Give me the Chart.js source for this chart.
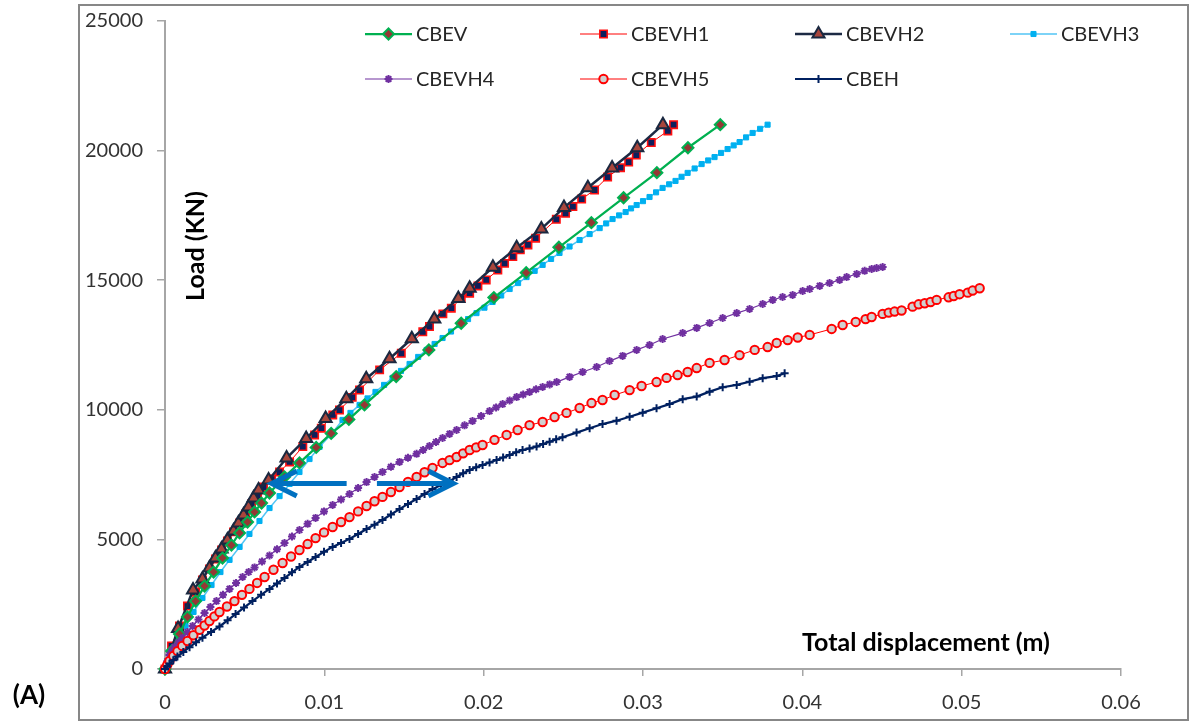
<!DOCTYPE html>
<html>
<head>
<meta charset="utf-8">
<script src="https://cdn.jsdelivr.net/npm/chart.js@4.4.1/dist/chart.umd.min.js"></script>
<style>
  html, body { margin: 0; padding: 0; background: #ffffff; overflow: hidden; }
  #wrap { position: relative; width: 1189px; height: 721px; }
</style>
</head>
<body>
<div id="wrap"><canvas id="c" width="1189" height="721"></canvas></div>
<script>
// Load (kN) versus total displacement (m) for the seven pile-group cases.
const seriesNames = ['CBEV', 'CBEVH1', 'CBEVH2', 'CBEVH3', 'CBEVH4', 'CBEVH5', 'CBEH'];
const xTickLabels = ['0', '0.01', '0.02', '0.03', '0.04', '0.05', '0.06'];
const yTickLabels = ['0', '5000', '10000', '15000', '20000', '25000'];

const cbevDisp = [0, 0.00041, 0.00091, 0.00141, 0.00192, 0.00248, 0.00305, 0.00361, 0.00417, 0.00468,
  0.00518, 0.00562, 0.00606, 0.00656, 0.00750, 0.00844, 0.00949, 0.01043, 0.01154, 0.01252,
  0.01451, 0.01656, 0.01859, 0.02064, 0.02267, 0.02472, 0.02676, 0.02878, 0.03087, 0.03282, 0.03485];
const cbevLoad = [0, 690, 1350, 2010, 2620, 3200, 3740, 4280, 4780, 5250,
  5670, 6060, 6400, 6790, 7410, 7950, 8550, 9090, 9630, 10190,
  11280, 12310, 13340, 14330, 15290, 16270, 17220, 18180, 19150, 20110, 21000];

const cbevh1Disp = [0, 0.00041, 0.00091, 0.00141, 0.00192, 0.00235, 0.00279, 0.00317, 0.00355, 0.00392,
  0.00430, 0.00468, 0.00505, 0.00543, 0.00581, 0.00618, 0.00669, 0.00719, 0.00782, 0.00865,
  0.00939, 0.00981, 0.01053, 0.01095, 0.01175, 0.01221, 0.01347, 0.01483, 0.01618, 0.01660,
  0.01744, 0.01797, 0.01859, 0.01912, 0.01964, 0.02016, 0.02089, 0.02131, 0.02183, 0.02230,
  0.02278, 0.02326, 0.02456, 0.02514, 0.02560, 0.02615, 0.02696, 0.02778, 0.02859, 0.02910,
  0.02958, 0.03052, 0.03156, 0.03192];
const cbevh1Load = [0, 890, 1660, 2430, 2970, 3430, 3860, 4240, 4590, 4940,
  5290, 5630, 5980, 6370, 6710, 7020, 7330, 7600, 7990, 8580,
  9030, 9290, 9800, 9990, 10480, 10760, 11540, 12180, 13010, 13210,
  13700, 13920, 14300, 14500, 14780, 15010, 15390, 15650, 15910, 16170,
  16360, 16620, 17350, 17580, 17840, 18130, 18480, 18980, 19340, 19560,
  19830, 20310, 20760, 21000];

const cbevh2Disp = [0, 0.00082, 0.00176, 0.00235, 0.00279, 0.00317, 0.00355, 0.00392, 0.00430, 0.00461,
  0.00493, 0.00524, 0.00556, 0.00587, 0.00650, 0.00763, 0.00886, 0.01008, 0.01138, 0.01263,
  0.01409, 0.01549, 0.01690, 0.01841, 0.01912, 0.02058, 0.02207, 0.02362, 0.02504, 0.02654,
  0.02806, 0.02964, 0.03125];
const cbevh2Load = [0, 1560, 3050, 3470, 3900, 4280, 4630, 4980, 5320, 5630,
  5940, 6250, 6600, 6910, 7290, 8140, 8890, 9660, 10430, 11200,
  11970, 12740, 13500, 14290, 14690, 15500, 16250, 16980, 17800, 18570,
  19330, 20110, 21000];

const cbevh3Disp = [0, 0.00035, 0.00078, 0.00129, 0.00179, 0.00235, 0.00292, 0.00348, 0.00405, 0.00468,
  0.00530, 0.00593, 0.00656, 0.00719, 0.00782, 0.00844, 0.00907, 0.00970, 0.01045, 0.01114,
  0.01164, 0.01221, 0.01271, 0.01321, 0.01375, 0.01428, 0.01481, 0.01535, 0.01589, 0.01642,
  0.01692, 0.01742, 0.01795, 0.01849, 0.01902, 0.01955, 0.02005, 0.02056, 0.02110, 0.02163,
  0.02216, 0.02269, 0.02320, 0.02370, 0.02423, 0.02476, 0.02539, 0.02602, 0.02665, 0.02728,
  0.02769, 0.02809, 0.02850, 0.02891, 0.02925, 0.02960, 0.03000, 0.03041, 0.03082, 0.03123,
  0.03164, 0.03204, 0.03242, 0.03280, 0.03324, 0.03368, 0.03409, 0.03449, 0.03490, 0.03531,
  0.03569, 0.03606, 0.03647, 0.03688, 0.03735, 0.03782];
const cbevh3Load = [0, 500, 1080, 1660, 2200, 2740, 3240, 3740, 4210, 4710,
  5210, 5710, 6210, 6670, 7140, 7600, 8100, 8570, 9070, 9610,
  9880, 10190, 10440, 10690, 10960, 11230, 11500, 11770, 12040, 12310,
  12540, 12770, 13020, 13270, 13500, 13730, 13940, 14160, 14410, 14660,
  14890, 15120, 15360, 15590, 15820, 16050, 16300, 16550, 16780, 17010,
  17190, 17360, 17500, 17630, 17770, 17900, 18050, 18210, 18390, 18560,
  18700, 18830, 18990, 19140, 19310, 19480, 19620, 19750, 19910, 20060,
  20200, 20330, 20510, 20680, 20840, 21000];

const cbevh4Disp = [0, 0.00014, 0.00028, 0.00044, 0.00060, 0.00085, 0.00110, 0.00141, 0.00173, 0.00210,
  0.00248, 0.00285, 0.00323, 0.00364, 0.00405, 0.00446, 0.00487, 0.00525, 0.00562, 0.00609,
  0.00656, 0.00703, 0.00750, 0.00797, 0.00844, 0.00895, 0.00945, 0.00998, 0.01052, 0.01105,
  0.01158, 0.01212, 0.01265, 0.01315, 0.01365, 0.01418, 0.01472, 0.01525, 0.01579, 0.01620,
  0.01660, 0.01701, 0.01742, 0.01786, 0.01830, 0.01880, 0.01930, 0.01984, 0.02037, 0.02078,
  0.02119, 0.02163, 0.02207, 0.02248, 0.02288, 0.02329, 0.02370, 0.02414, 0.02458, 0.02539,
  0.02621, 0.02709, 0.02790, 0.02872, 0.02960, 0.03041, 0.03123, 0.03249, 0.03337, 0.03418,
  0.03500, 0.03588, 0.03669, 0.03751, 0.03814, 0.03876, 0.03939, 0.04002, 0.04046, 0.04109,
  0.04171, 0.04234, 0.04278, 0.04341, 0.04391, 0.04435, 0.04466, 0.04504];
const cbevh4Load = [0, 300, 540, 700, 850, 1030, 1200, 1430, 1660, 1910,
  2160, 2390, 2620, 2860, 3090, 3320, 3550, 3740, 3920, 4150,
  4380, 4620, 4860, 5110, 5360, 5600, 5830, 6080, 6330, 6540,
  6750, 6980, 7210, 7410, 7600, 7800, 7990, 8150, 8300, 8450,
  8600, 8760, 8910, 9070, 9220, 9400, 9570, 9760, 9950, 10090,
  10220, 10360, 10490, 10590, 10690, 10790, 10880, 10980, 11070, 11270,
  11460, 11650, 11880, 12080, 12310, 12500, 12730, 12960, 13160, 13350,
  13540, 13730, 13890, 14080, 14240, 14350, 14430, 14580, 14660, 14780,
  14890, 15010, 15120, 15240, 15360, 15430, 15470, 15510];

const cbevh5Disp = [0, 0.00014, 0.00028, 0.00052, 0.00078, 0.00108, 0.00141, 0.00178, 0.00217, 0.00248,
  0.00279, 0.00310, 0.00342, 0.00389, 0.00436, 0.00483, 0.00530, 0.00578, 0.00625, 0.00681,
  0.00738, 0.00791, 0.00844, 0.00895, 0.00945, 0.00998, 0.01052, 0.01105, 0.01158, 0.01212,
  0.01265, 0.01315, 0.01365, 0.01418, 0.01472, 0.01525, 0.01579, 0.01629, 0.01679, 0.01742,
  0.01786, 0.01830, 0.01871, 0.01912, 0.01953, 0.01993, 0.02068, 0.02144, 0.02213, 0.02288,
  0.02370, 0.02445, 0.02520, 0.02602, 0.02677, 0.02746, 0.02822, 0.02916, 0.02991, 0.03085,
  0.03148, 0.03217, 0.03280, 0.03337, 0.03418, 0.03512, 0.03606, 0.03701, 0.03782, 0.03839,
  0.03908, 0.03971, 0.04046, 0.04184, 0.04253, 0.04335, 0.04397, 0.04435, 0.04504, 0.04542,
  0.04579, 0.04623, 0.04692, 0.04730, 0.04768, 0.04805, 0.04843, 0.04918, 0.04950, 0.04987,
  0.05038, 0.05069, 0.05113];
const cbevh5Load = [0, 160, 310, 500, 690, 890, 1080, 1300, 1510, 1680,
  1850, 2030, 2200, 2410, 2620, 2860, 3090, 3320, 3550, 3830,
  4090, 4340, 4590, 4820, 5050, 5270, 5480, 5670, 5860, 6080,
  6290, 6470, 6640, 6830, 7020, 7220, 7410, 7590, 7760, 7950,
  8060, 8180, 8320, 8450, 8550, 8640, 8840, 9030, 9220, 9410,
  9530, 9720, 9880, 10070, 10260, 10380, 10570, 10760, 10920, 11070,
  11230, 11340, 11460, 11610, 11810, 11920, 12110, 12310, 12420, 12580,
  12690, 12790, 12890, 13120, 13270, 13390, 13500, 13580, 13700, 13750,
  13790, 13830, 13980, 14070, 14110, 14160, 14240, 14340, 14390, 14460,
  14520, 14600, 14690];

const cbehDisp = [0, 0.00014, 0.00028, 0.00052, 0.00078, 0.00115, 0.00154, 0.00195, 0.00235, 0.00289,
  0.00342, 0.00393, 0.00443, 0.00496, 0.00549, 0.00603, 0.00656, 0.00703, 0.00750, 0.00797,
  0.00844, 0.00895, 0.00945, 0.00998, 0.01052, 0.01105, 0.01158, 0.01212, 0.01265, 0.01315,
  0.01365, 0.01418, 0.01472, 0.01525, 0.01579, 0.01629, 0.01679, 0.01733, 0.01786, 0.01830,
  0.01871, 0.01912, 0.01953, 0.01993, 0.02037, 0.02081, 0.02122, 0.02163, 0.02204, 0.02244,
  0.02288, 0.02332, 0.02373, 0.02414, 0.02455, 0.02495, 0.02583, 0.02665, 0.02746, 0.02834,
  0.02916, 0.02998, 0.03085, 0.03167, 0.03249, 0.03337, 0.03418, 0.03500, 0.03588, 0.03669,
  0.03751, 0.03839, 0.03889];
const cbehLoad = [0, 100, 200, 340, 480, 660, 840, 1030, 1210, 1430,
  1640, 1880, 2120, 2370, 2620, 2860, 3090, 3300, 3510, 3730,
  3940, 4130, 4320, 4520, 4710, 4860, 5020, 5210, 5400, 5570,
  5750, 5960, 6170, 6370, 6560, 6750, 6940, 7100, 7250, 7410,
  7550, 7680, 7780, 7870, 7970, 8060, 8160, 8260, 8360, 8450,
  8510, 8580, 8680, 8770, 8860, 8940, 9120, 9290, 9450, 9580,
  9730, 9890, 10060, 10220, 10410, 10510, 10700, 10870, 10960, 11080,
  11220, 11300, 11410];

// Annotation arrows (data units): shaft start -> tip
const arrowLoad = 7160;
const arrowLeftFrom = 0.0114, arrowLeftTo = 0.0067;
const arrowRightFrom = 0.0133, arrowRightTo = 0.0181;

const zip = (xs, ys) => xs.map((x, i) => ({ x: x, y: ys[i] }));

const seriesData = [
  zip(cbevDisp, cbevLoad), zip(cbevh1Disp, cbevh1Load), zip(cbevh2Disp, cbevh2Load),
  zip(cbevh3Disp, cbevh3Load), zip(cbevh4Disp, cbevh4Load), zip(cbevh5Disp, cbevh5Load),
  zip(cbehDisp, cbehLoad)
];

const seriesStyle = [
  { borderColor: '#00b050', borderWidth: 2.25, pointStyle: 'rectRot', pointRadius: 5.5,
    pointBackgroundColor: '#953735', pointBorderColor: '#00b050', pointBorderWidth: 2, order: 4 },
  { borderColor: '#ff0000', borderWidth: 1, pointStyle: 'rect', pointRadius: 5.2,
    pointBackgroundColor: '#0d1f5c', pointBorderColor: '#ff1010', pointBorderWidth: 1.6, order: 6 },
  { borderColor: '#1c2a44', borderWidth: 2.5, pointStyle: 'triangle', pointRadius: 7,
    pointBackgroundColor: '#a8463c', pointBorderColor: '#1a2840', pointBorderWidth: 2, order: 5 },
  { borderColor: '#52c5f5', borderWidth: 1.5, pointStyle: 'rect', pointRadius: 3.6,
    pointBackgroundColor: '#00b0f0', pointBorderColor: '#00b0f0', pointBorderWidth: 1, order: 7 },
  { borderColor: '#7030a0', borderWidth: 1.2, pointStyle: 'star', pointRadius: 4,
    pointBackgroundColor: '#7030a0', pointBorderColor: '#7030a0', pointBorderWidth: 2, order: 3 },
  { borderColor: '#ff0000', borderWidth: 1, pointStyle: 'circle', pointRadius: 4.2,
    pointBackgroundColor: '#d0d0d0', pointBorderColor: '#ff0000', pointBorderWidth: 2, order: 2 },
  { borderColor: '#002060', borderWidth: 2.2, pointStyle: 'cross', pointRadius: 4,
    pointBackgroundColor: '#002060', pointBorderColor: '#002060', pointBorderWidth: 2, order: 1 }
];

const datasets = seriesNames.map((name, i) => Object.assign({
  label: name,
  data: seriesData[i],
  showLine: true,
  fill: false,
  tension: 0,
  clip: false
}, seriesStyle[i]));

// Legend slots: four columns, two rows inside the plot
const legendSlots = [
  { x: 365, y: 34 }, { x: 580, y: 34 }, { x: 795, y: 34 }, { x: 1010, y: 34 },
  { x: 365, y: 79 }, { x: 580, y: 79 }, { x: 795, y: 79 }
];

const decor = {
  id: 'decor',
  beforeDraw(chart) {
    const ctx = chart.ctx;
    ctx.save();
    ctx.fillStyle = '#ffffff';
    ctx.fillRect(0, 0, chart.width, chart.height);
    ctx.restore();
  },
  afterDatasetsDraw(chart) {
    const ctx = chart.ctx;
    const xs = chart.scales.x, ys = chart.scales.y;
    const yA = ys.getPixelForValue(arrowLoad);
    const drawArrow = (from, to) => {
      const x0 = xs.getPixelForValue(from), x1 = xs.getPixelForValue(to);
      const dir = Math.sign(x1 - x0);
      ctx.save();
      ctx.strokeStyle = '#0070c0';
      ctx.lineWidth = 5;
      ctx.lineCap = 'butt';
      ctx.lineJoin = 'miter';
      ctx.beginPath();
      ctx.moveTo(x0, yA);
      ctx.lineTo(x1 - dir * 3, yA);
      ctx.stroke();
      ctx.beginPath();
      ctx.moveTo(x1 - dir * 25, yA - 12.5);
      ctx.lineTo(x1, yA);
      ctx.lineTo(x1 - dir * 25, yA + 12.5);
      ctx.stroke();
      ctx.restore();
    };
    drawArrow(arrowLeftFrom, arrowLeftTo);
    drawArrow(arrowRightFrom, arrowRightTo);
  },
  afterDraw(chart) {
    const ctx = chart.ctx;
    ctx.save();
    // outer frame
    ctx.strokeStyle = '#878787';
    ctx.lineWidth = 2;
    ctx.strokeRect(79, 5, 1109, 715);

    // axis titles
    ctx.fillStyle = '#000000';
    ctx.textAlign = 'center';
    ctx.textBaseline = 'middle';
    ctx.font = 'bold 25px Lato';
    ctx.fillText('Total displacement (m)', 926, 643);
    ctx.save();
    ctx.translate(196, 246);
    ctx.rotate(-Math.PI / 2);
    ctx.fillText('Load (KN)', 0, 0);
    ctx.restore();
    ctx.font = 'bold 26px Lato';
    ctx.fillText('(A)', 29, 696);

    // legend
    ctx.font = '20px Lato';
    ctx.textAlign = 'left';
    chart.data.datasets.forEach((ds, i) => {
      const s = legendSlots[i];
      ctx.save();
      ctx.strokeStyle = ds.borderColor;
      ctx.lineWidth = ds.borderWidth;
      ctx.beginPath();
      ctx.moveTo(s.x, s.y);
      ctx.lineTo(s.x + 47, s.y);
      ctx.stroke();
      ctx.fillStyle = ds.pointBackgroundColor;
      ctx.strokeStyle = ds.pointBorderColor;
      ctx.lineWidth = ds.pointBorderWidth;
      Chart.helpers.drawPoint(ctx, {
        pointStyle: ds.pointStyle, radius: ds.pointRadius, rotation: 0, borderWidth: ds.pointBorderWidth
      }, s.x + 23.5, s.y);
      ctx.restore();
      ctx.fillStyle = '#262626';
      ctx.fillText(ds.label, s.x + 51, s.y + 1);
    });
    ctx.restore();
  }
};

new Chart(document.getElementById('c'), {
  type: 'scatter',
  data: { datasets: datasets },
  options: {
    responsive: false,
    animation: false,
    events: [],
    layout: { padding: { left: 0, top: 21, right: 68, bottom: 0 } },
    plugins: { legend: { display: false }, tooltip: { enabled: false } },
    scales: {
      x: {
        type: 'linear',
        min: 0, max: 0.06,
        afterFit(scale) {
          scale.height = 52;
          scale.paddingLeft = 0; scale.paddingRight = 0;
        },
        afterBuildTicks(scale) { scale.ticks = xTickLabels.map(Number).map(v => ({ value: v })); },
        ticks: {
          callback: (v, i) => xTickLabels[i],
          font: { family: 'Lato', size: 20 },
          color: '#333333',
          padding: 15,
          maxRotation: 0,
          autoSkip: false
        },
        grid: { drawOnChartArea: false, drawTicks: true, tickLength: 7, color: '#a6a6a6', lineWidth: 1.5 },
        border: { display: true, color: '#a6a6a6', width: 2 }
      },
      y: {
        type: 'linear',
        min: 0, max: 25000,
        afterFit(scale) {
          scale.width = 165;
          scale.paddingTop = 0; scale.paddingBottom = 0;
        },
        afterBuildTicks(scale) { scale.ticks = yTickLabels.map(Number).map(v => ({ value: v })); },
        ticks: {
          callback: (v, i) => yTickLabels[i],
          font: { family: 'Lato', size: 20 },
          color: '#333333',
          padding: 14,
          autoSkip: false
        },
        grid: { drawOnChartArea: false, drawTicks: true, tickLength: 8, color: '#a6a6a6', lineWidth: 1.5 },
        border: { display: true, color: '#a6a6a6', width: 2 }
      }
    }
  },
  plugins: [decor]
});
</script>
</body>
</html>
